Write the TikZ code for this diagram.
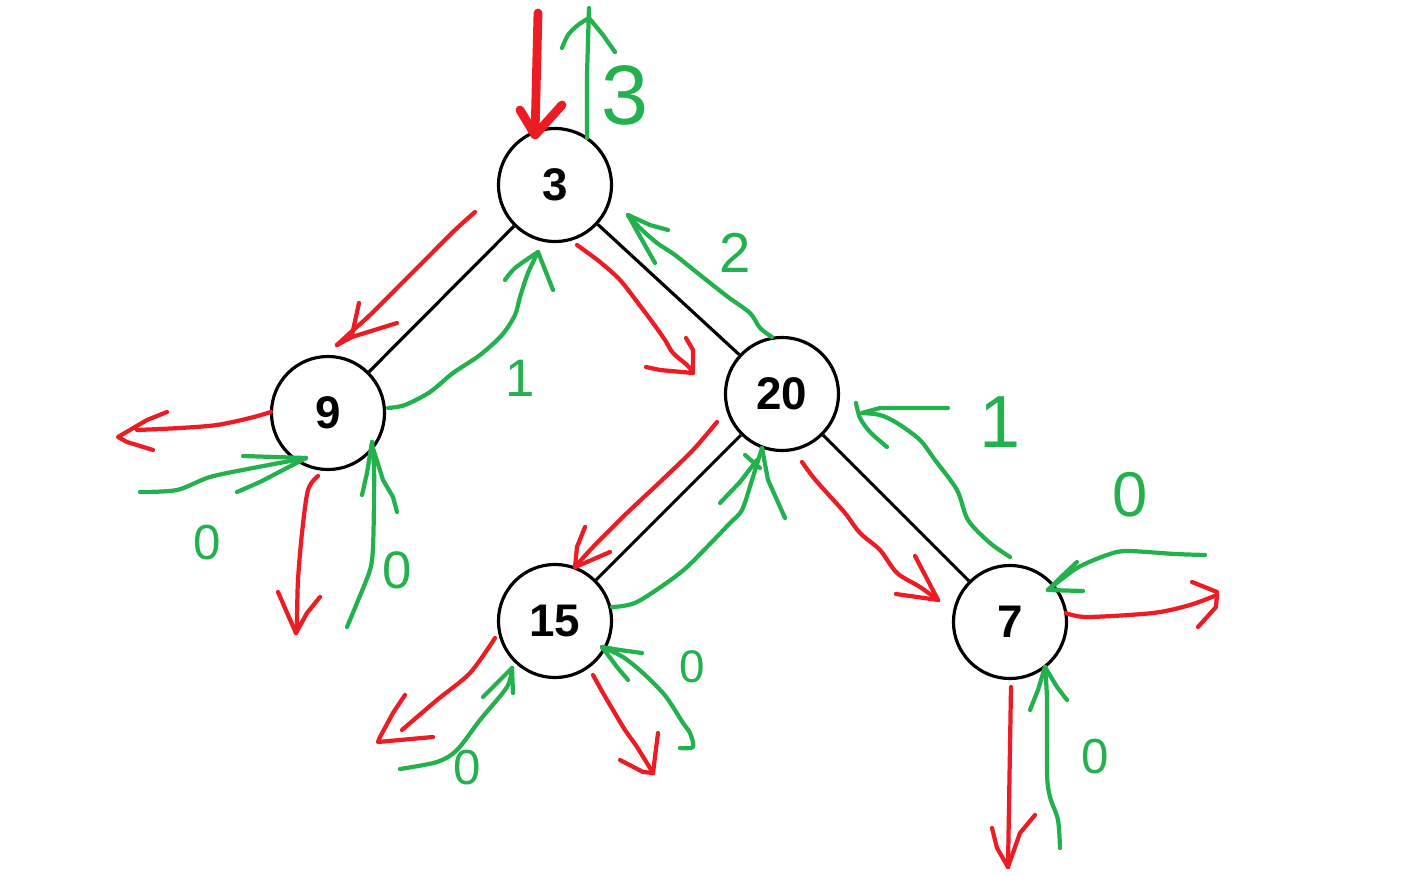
\documentclass[tikz,border=0pt]{standalone}
\usepackage{fontspec}
\setmainfont{Liberation Sans}
\definecolor{pred}{HTML}{ED1C24}
\definecolor{pgreen}{HTML}{22B14C}
\begin{document}
\begin{tikzpicture}[x=0.01cm,y=-0.01cm,
  tnode/.style={circle,draw=black,line width=0.9pt,minimum size=1.13cm,inner sep=0pt,fill=white,font=\bfseries\fontsize{13}{15}\selectfont},
  treeedge/.style={draw=black,line width=0.9pt},
  rs/.style={draw=pred,line width=1.2pt,line cap=round,line join=round},
  gs/.style={draw=pgreen,line width=1.2pt,line cap=round,line join=round},
  glabel/.style={text=pgreen,inner sep=0pt}]
\fill[white] (0,0) rectangle (1402,876);
\useasboundingbox (0,0) rectangle (1402,876);

% tree
\node[tnode] (n3) at (555,185) {3};
\node[tnode] (n9) at (328,413) {9};
\node[tnode] (n20) at (782,394) {20};
\node[tnode] (n15) at (555,621) {15};
\node[tnode] (n7) at (1010,622) {7};
\draw[treeedge] (n3) -- (n9);
\draw[treeedge] (n3) -- (n20);
\draw[treeedge] (n20) -- (n15);
\draw[treeedge] (n20) -- (n7);

% ---------- red strokes ----------
\draw[rs,line width=2.5pt] (538,13) -- (535,135);
\draw[rs,line width=2.5pt] (520,110) -- (535,135) -- (562,105);

\draw[rs] plot[smooth] coordinates {(475,212) (455,230) (430,255) (400,285) (370,315) (350,333) (337,345)};
\draw[rs] (359,303) -- (352,335) -- (337,345);
\draw[rs] (397,323) -- (352,337) -- (337,345);

\draw[rs] plot[smooth] coordinates {(577,245) (600,262) (620,280) (638,303) (653,323) (665,340) (673,353) (687,365) (693,372)};
\draw[rs] (686,338) -- (693,350) -- (693,372);
\draw[rs] (646,367) -- (660,370) -- (693,373);

\draw[rs] plot[smooth] coordinates {(271,412) (250,418) (217,425) (180,428) (137,430)};
\draw[rs] (167,412) -- (147,420) -- (118,437) -- (127,442) -- (153,450);

\draw[rs] plot[smooth] coordinates {(318,476) (308,490) (302,533) (298,580) (297,617) (296,633)};
\draw[rs] (278,592) -- (288,615) -- (296,633);
\draw[rs] (320,597) -- (307,613) -- (296,633);

\draw[rs] plot[smooth] coordinates {(717,422) (693,450) (660,482) (627,513) (593,547) (575,567)};
\draw[rs] (585,527) -- (577,547) -- (575,567);
\draw[rs] (610,552) -- (587,562) -- (575,567);

\draw[rs] plot[smooth] coordinates {(802,462) (813,477) (827,493) (845,513) (860,533) (880,550) (897,573) (920,587) (938,600)};
\draw[rs] (915,556) -- (925,575) -- (938,600);
\draw[rs] (896,594) -- (938,600);

\draw[rs] plot[smooth] coordinates {(495,638) (470,673) (437,700) (402,730)};
\draw[rs] (405,695) -- (393,713) -- (380,737) -- (378,742) -- (433,737);

\draw[rs] plot[smooth] coordinates {(593,675) (603,693) (613,710) (625,730) (637,747) (653,773)};
\draw[rs] (620,760) -- (643,772) -- (653,773);
\draw[rs] (658,733) -- (653,773);

\draw[rs] plot[smooth] coordinates {(1066,613) (1087,617) (1153,613) (1190,605) (1217,595)};
\draw[rs] (1192,582) -- (1217,592);
\draw[rs] (1217,595) -- (1216,607) -- (1198,627);

\draw[rs] (1011,687) -- (1008,867);
\draw[rs] (992,828) -- (997,848) -- (1008,867);
\draw[rs] (1035,815) -- (1020,833) -- (1008,867);

% ---------- green strokes ----------
\draw[gs] (587,138) -- (587,75) -- (589,8);
\draw[gs] plot[smooth] coordinates {(562,48) (568,35) (578,25) (589,18)};
\draw[gs] (589,18) -- (603,35) -- (615,52);
\node[glabel,font=\fontsize{24}{24}\selectfont] (l3) at (625,95) {3};

\draw[gs] plot[smooth] coordinates {(388,408) (405,405) (430,392) (453,373) (480,355) (502,335) (515,315) (520,297) (528,273) (538,252)};
\draw[gs] plot[smooth] coordinates {(505,280) (515,268) (538,252)};
\draw[gs] (538,252) -- (553,290);
\node[glabel,font=\fontsize{15}{15}\selectfont] (l1a) at (520,378) {1};

\draw[gs] plot[smooth] coordinates {(772,337) (760,328) (750,313) (728,297) (700,275) (675,255) (657,243) (640,228) (628,215)};
\draw[gs] (628,215) -- (650,225) -- (668,230);
\draw[gs] (628,215) -- (642,240) -- (655,263);
\node[glabel,font=\fontsize{16}{16}\selectfont] (l2) at (735,253) {2};

\draw[gs] plot[smooth] coordinates {(612,607) (637,602) (680,573) (707,547) (730,523) (742,510) (752,480) (762,448)};
\draw[gs] (720,503) -- (740,482) -- (757,460);
\draw[gs] (745,455) -- (760,468);
\draw[gs] (762,448) -- (768,480) -- (785,518);

\draw[gs] plot[smooth] coordinates {(1010,557) (990,543) (968,520) (957,490) (935,460) (920,440) (897,423) (880,415) (862,413)};
\draw[gs] (948,408) -- (880,408) -- (862,413);
\draw[gs] plot[smooth] coordinates {(856,403) (860,418) (870,432) (887,447)};
\node[glabel,font=\fontsize{21}{21}\selectfont] (l1b) at (1000,422) {1};

\draw[gs] plot[smooth] coordinates {(1205,555) (1175,554) (1127,551) (1107,555) (1077,568) (1048,590)};
\draw[gs] (1077,562) -- (1060,578) -- (1048,590);
\draw[gs] (1048,590) -- (1083,591);
\node[glabel,font=\fontsize{18}{18}\selectfont] (l0a) at (1130,495) {0};

\draw[gs] plot[smooth] coordinates {(140,492) (177,490) (210,477) (253,468) (306,458)};
\draw[gs] (243,456) -- (306,458);
\draw[gs] (237,492) -- (260,482) -- (306,458);
\node[glabel,font=\fontsize{14}{14}\selectfont] (l0b) at (207,543) {0};

\draw[gs] plot[smooth] coordinates {(347,627) (357,603) (370,570) (373,547) (374,500) (374,467) (372,442)};
\draw[gs] (362,495) -- (367,473) -- (372,442);
\draw[gs] (372,445) -- (383,480) -- (393,497) -- (397,512);
\node[glabel,font=\fontsize{15}{15}\selectfont] (l0c) at (397,570) {0};

\draw[gs] plot[smooth] coordinates {(400,769) (437,762) (457,750) (480,720) (507,687) (512,668)};
\draw[gs] (483,697) -- (512,668);
\draw[gs] (512,668) -- (513,693);
\node[glabel,font=\fontsize{14}{14}\selectfont] (l0d) at (467,768) {0};

\draw[gs] plot[smooth] coordinates {(680,748) (693,747) (690,733) (683,723) (673,707) (663,693) (643,673) (623,657) (602,647)};
\draw[gs] (642,653) -- (620,650) -- (602,647);
\draw[gs] (602,647) -- (617,667) -- (628,680);
\node[glabel,font=\fontsize{13}{13}\selectfont] (l0e) at (692,667) {0};

\draw[gs] plot[smooth] coordinates {(1060,848) (1058,820) (1050,797) (1047,773) (1047,700) (1045,667)};
\draw[gs] (1030,710) -- (1038,690) -- (1045,667);
\draw[gs] (1045,667) -- (1057,687) -- (1067,700);
\node[glabel,font=\fontsize{14}{14}\selectfont] (l0f) at (1095,757) {0};
\end{tikzpicture}
\end{document}
